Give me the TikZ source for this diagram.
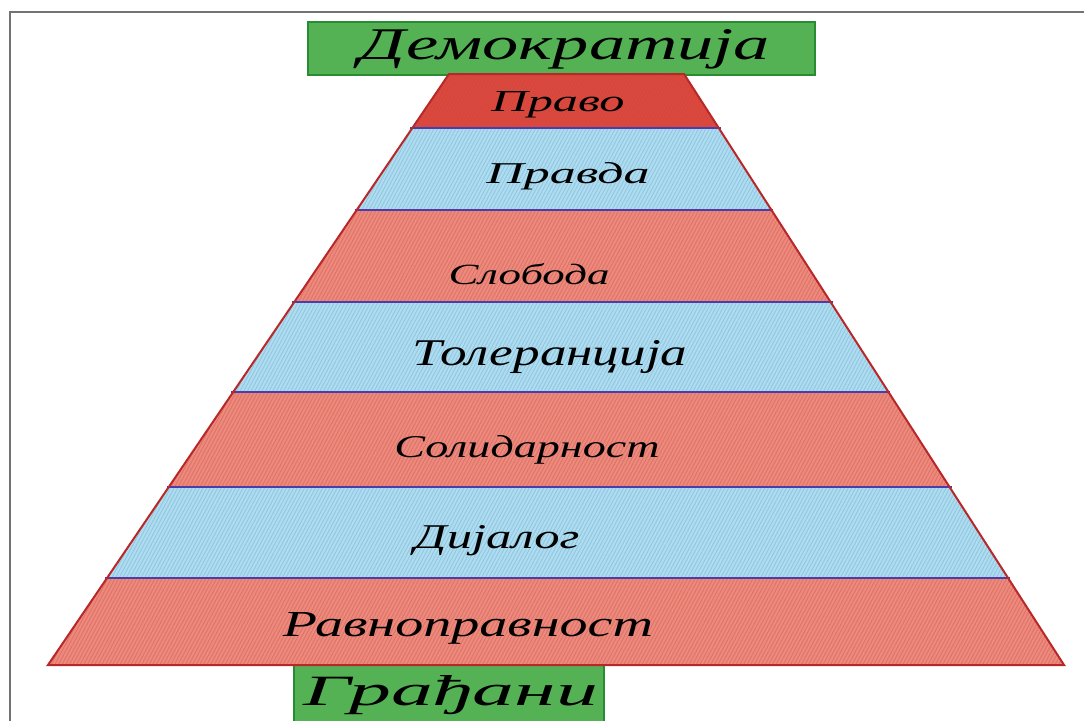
\documentclass[tikz,border=0pt]{standalone}
\usepackage{fontspec}
\setmainfont{Liberation Serif}
\newfontfamily\hand[Script=Cyrillic,Language=Serbian]{Liberation Serif}
\usetikzlibrary{calc,patterns.meta}
\definecolor{framegray}{RGB}{115,115,115}
\definecolor{topred}{RGB}{218,72,62}
\definecolor{bandred}{RGB}{236,138,126}
\definecolor{redtex}{RGB}{205,70,60}
\definecolor{bandblue}{RGB}{176,220,238}
\definecolor{bluetex}{RGB}{80,165,215}
\definecolor{boxgreen}{RGB}{84,178,84}
\definecolor{greentex}{RGB}{40,140,50}
\definecolor{sepblue}{RGB}{78,60,170}
\definecolor{edgered}{RGB}{185,40,40}
\tikzset{
  redband/.style={fill=bandred},
  blueband/.style={fill=bandblue},
  redhatch/.style={pattern={Lines[angle=62,distance=3.2pt,line width=0.9pt]},pattern color=redtex,opacity=0.35},
  bluehatch/.style={pattern={Lines[angle=62,distance=3.2pt,line width=0.9pt]},pattern color=bluetex,opacity=0.35},
  greenbox/.style={draw=greentex,line width=1.5pt,fill=boxgreen},
  sepline/.style={draw=sepblue,line width=2.6pt},
  outline/.style={draw=edgered,line width=2pt,line join=miter},
  lbl/.style={inner sep=0pt,font=\hand\itshape,text=black}
}
\begin{document}
\begin{tikzpicture}[x=1pt,y=-1pt]
\useasboundingbox (0,0) rectangle (1084,720);
\fill[white] (0,0) rectangle (1084,720);
% frame
\draw[framegray,line width=2.8pt] (10,722) -- (10,12) -- (1086,12);
% green boxes
\path[greenbox] (308,22) rectangle (815,75);
\path[greenbox] (294,665) rectangle (604,724);
% pyramid corners
\coordinate (TL) at (449,74);
\coordinate (TR) at (684,74);
\coordinate (BR) at (1064,665);
\coordinate (BL) at (48,665);
\foreach \i/\t in {0/0,1/0.0914,2/0.2301,3/0.3858,4/0.5381,5/0.6988,6/0.8528,7/1}{
  \coordinate (L\i) at ($(TL)!\t!(BL)$);
  \coordinate (R\i) at ($(TR)!\t!(BR)$);
}
% bands
\fill[topred] (L0)--(R0)--(R1)--(L1)--cycle;
\path[redhatch] (L0)--(R0)--(R1)--(L1)--cycle;
\foreach \a/\b in {1/2,3/4,5/6}{
  \path[blueband] (L\a)--(R\a)--(R\b)--(L\b)--cycle;
  \path[bluehatch] (L\a)--(R\a)--(R\b)--(L\b)--cycle;
}
\foreach \a/\b in {2/3,4/5,6/7}{
  \path[redband] (L\a)--(R\a)--(R\b)--(L\b)--cycle;
  \path[redhatch] (L\a)--(R\a)--(R\b)--(L\b)--cycle;
}
% separators
\foreach \i in {1,...,6}{
  \draw[sepline] ($(L\i)+(-2,0)$) -- ($(R\i)+(2,0)$);
}
\draw[outline] (TL)--(TR)--(BR)--(BL)--cycle;
% labels
\node[lbl] (demokratija) at (565,49) {\resizebox{410pt}{30pt}{Демократија}};
\node[lbl] (pravo) at (558,105) {\resizebox{133pt}{20pt}{Право}};
\node[lbl] (pravda) at (568,176) {\resizebox{163pt}{21pt}{Правда}};
\node[lbl] (sloboda) at (529,274) {\resizebox{161pt}{21pt}{Слобода}};
\node[lbl] (tolerancija) at (550,357) {\resizebox{275pt}{25pt}{Толеранција}};
\node[lbl] (solidarnost) at (527,450) {\resizebox{265pt}{22pt}{Солидарност}};
\node[lbl] (dijalog) at (497,541) {\resizebox{165pt}{23pt}{Дијалог}};
\node[lbl] (ravnopravnost) at (468,628) {\resizebox{370pt}{24pt}{Равноправност}};
\node[lbl] (gradjani) at (451,695) {\resizebox{294pt}{30pt}{Грађани}};
\end{tikzpicture}
\end{document}
